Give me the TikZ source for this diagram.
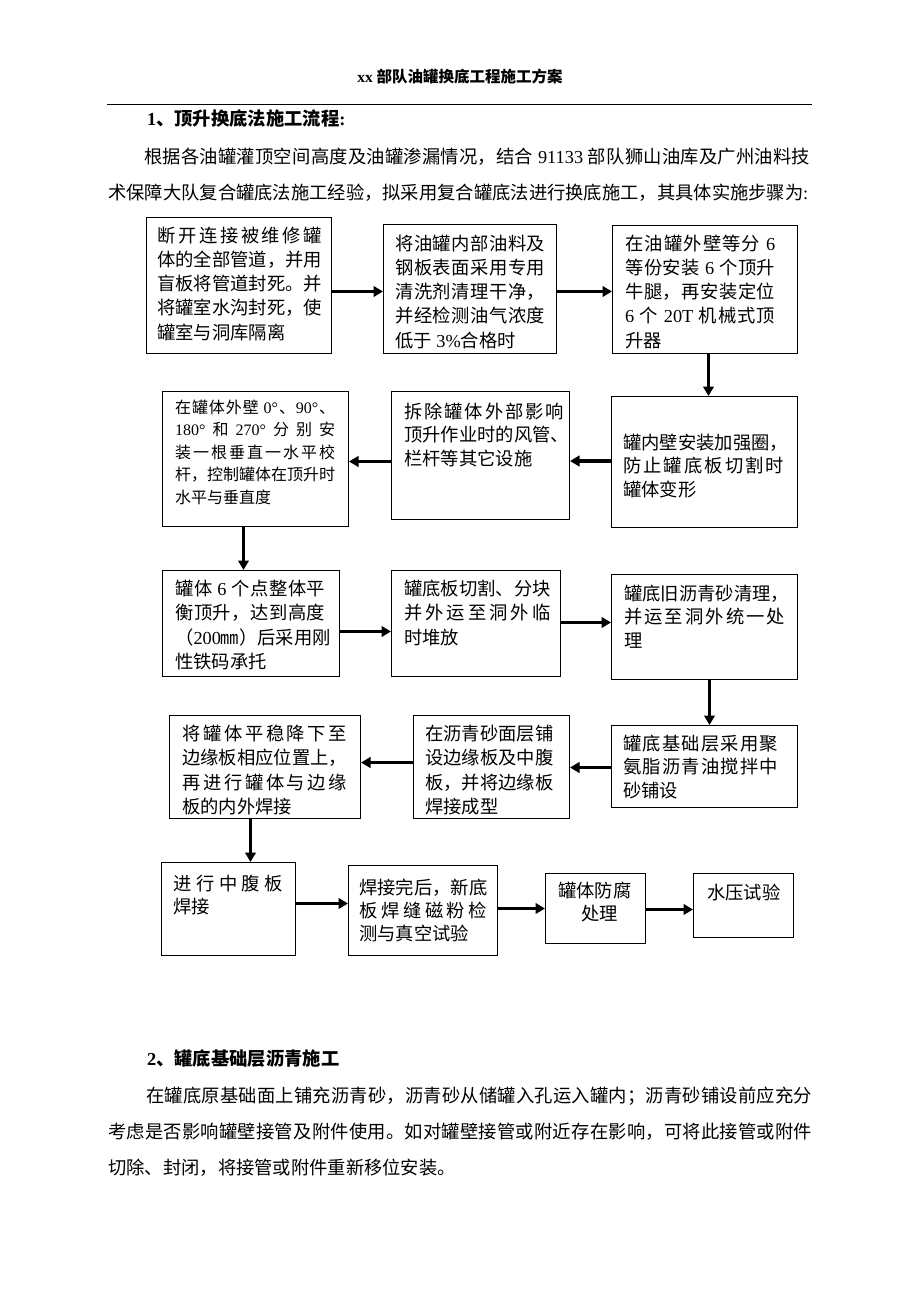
\documentclass[tikz,border=0pt]{standalone}
\usepackage{fontspec}
\setmainfont{Liberation Serif}
\newfontfamily\cjk{Noto Sans CJK SC}
\usetikzlibrary{arrows.meta}
\makeatletter
\newcommand\spr[2]{\hbox to #1pt{\spr@a#2\relax}}
\def\spr@a#1{{#1}\spr@b}
\def\spr@b#1{\ifx\relax#1\else\hfil{#1}\expandafter\spr@b\fi}
\makeatother
\newcommand\tn{\rmfamily}
\newcommand\bsk[1]{\baselineskip=#1pt\lineskip=0pt\lineskiplimit=-100pt\relax}
\tikzset{
  box/.style={draw, line width=1pt, inner sep=0pt, anchor=north west},
  txt/.style={inner sep=0pt, anchor=base west, font=\cjk\fontsize{18.3}{24}\selectfont},
  small/.style={font=\cjk\fontsize{16}{22}\selectfont},
  arr/.style={line width=3.5pt, -{Triangle[length=9.5pt,width=10.5pt]}},
}
\begin{document}
\begin{tikzpicture}[x=1pt,y=-1pt]
\fill[white] (0,0) rectangle (920,1302);
\useasboundingbox (0,0) rectangle (920,1302);
% header
\node[inner sep=0pt, font=\cjk\bfseries\fontsize{15.5}{18}\selectfont] (hdr) at (460,77) {{\tn xx} 部队油罐换底工程施工方案};
\draw[line width=1pt] (107,104) -- (812,104);
\node[txt, font=\cjk\bfseries\fontsize{18.3}{24}\selectfont] (h1) at (147,125) {{\tn 1}、顶升换底法施工流程{\tn :}};
\node[txt] (p1) at (108,163) {\vtop{\bsk{36}%
 \hbox{\hskip36pt\spr{666}{根据各油罐灌顶空间高度及油罐渗漏情况，结合{\tn\ 91133\ }部队狮山油库及广州油料技}}%
 \hbox{\spr{695}{术保障大队复合罐底法施工经验，拟采用复合罐底法进行换底施工，其具体实施步骤为}{\tn :}}}};
% boxes
\node[box, minimum width=185pt, minimum height=136pt] (b1) at (146,217) {};
\node[box, minimum width=173pt, minimum height=129pt] (b2) at (383,224) {};
\node[box, minimum width=185pt, minimum height=128pt] (b3) at (612,225) {};
\node[box, minimum width=186pt, minimum height=131pt] (b4) at (611,396) {};
\node[box, minimum width=178pt, minimum height=128pt] (b5) at (391,391) {};
\node[box, minimum width=186pt, minimum height=135pt] (b6) at (162,391) {};
\node[box, minimum width=177pt, minimum height=106pt] (b7) at (162,570) {};
\node[box, minimum width=169pt, minimum height=106pt] (b8) at (391,570) {};
\node[box, minimum width=186pt, minimum height=105pt] (b9) at (611,574) {};
\node[box, minimum width=186pt, minimum height=82pt] (b10) at (611,725) {};
\node[box, minimum width=156pt, minimum height=103pt] (b11) at (413,715) {};
\node[box, minimum width=191pt, minimum height=103pt] (b12) at (169,715) {};
\node[box, minimum width=134pt, minimum height=93pt] (b13) at (161,862) {};
\node[box, minimum width=149pt, minimum height=90pt] (b14) at (348,865) {};
\node[box, minimum width=100pt, minimum height=70pt] (b15) at (545,873) {};
\node[box, minimum width=100pt, minimum height=64pt] (b16) at (693,873) {};
% texts
\node[txt] (t1) at (157,242) {\vtop{\bsk{24.3}%
 \spr{165}{断开连接被维修罐}\spr{165}{体的全部管道，并用}\spr{165}{盲板将管道封死。并}\spr{165}{将罐室水沟封死，使}\hbox{罐室与洞库隔离}}};
\node[txt] (t2) at (395,250) {\vtop{\bsk{24.3}%
 \spr{150}{将油罐内部油料及}\spr{150}{钢板表面采用专用}\spr{150}{清洗剂清理干净，}\spr{150}{并经检测油气浓度}\hbox{低于{\tn\ 3\%}合格时}}};
\node[txt] (t3) at (625,250) {\vtop{\bsk{24.3}%
 \spr{150}{在油罐外壁等分{\tn\ 6}}\spr{150}{等份安装{\tn\ 6\ }个顶升}\spr{150}{牛腿，再安装定位}\spr{150}{{\tn 6\ }个{\tn\ 20T\ }机械式顶}\hbox{升器}}};
\node[txt] (t4) at (623,449) {\vtop{\bsk{23.5}%
 \hbox{罐内壁安装加强圈，}\spr{161}{防止罐底板切割时}\hbox{罐体变形}}};
\node[txt] (t5) at (404,418) {\vtop{\bsk{23.5}%
 \spr{160}{拆除罐体外部影响}\hbox{顶升作业时的风管、}\hbox{栏杆等其它设施}}};
\node[txt, small] (t6) at (175,413) {\vtop{\bsk{22.5}%
 \spr{160}{在罐体外壁{\tn\ 0°}、{\tn 90°}、}\spr{160}{{\tn 180°}和{\tn 270°}分别安}\spr{160}{装一根垂直一水平校}\hbox{杆，控制罐体在顶升时}\hbox{水平与垂直度}}};
\node[txt] (t7) at (175,595) {\vtop{\bsk{24.5}%
 \spr{150}{罐体{\tn\ 6\ }个点整体平}\spr{150}{衡顶升，达到高度}\hbox{（{\tn 200}㎜）后采用刚}\hbox{性铁码承托}}};
\node[txt] (t8) at (404,595) {\vtop{\bsk{24.5}%
 \spr{146.4}{罐底板切割、分块}\spr{146.4}{并外运至洞外临}\hbox{时堆放}}};
\node[txt] (t9) at (624,600) {\vtop{\bsk{23.5}%
 \hbox{罐底旧沥青砂清理，}\spr{161}{并运至洞外统一处}\hbox{理}}};
\node[txt] (t10) at (623,750) {\vtop{\bsk{23.5}%
 \spr{155}{罐底基础层采用聚}\spr{155}{氨脂沥青油搅拌中}\hbox{砂铺设}}};
\node[txt] (t11) at (425,740) {\vtop{\bsk{24.5}%
 \hbox{在沥青砂面层铺}\hbox{设边缘板及中腹}\hbox{板，并将边缘板}\hbox{焊接成型}}};
\node[txt] (t12) at (182,740) {\vtop{\bsk{24.5}%
 \spr{165}{将罐体平稳降下至}\hbox{边缘板相应位置上，}\spr{165}{再进行罐体与边缘}\hbox{板的内外焊接}}};
\node[txt] (t13) at (173,890) {\vtop{\bsk{23}%
 \spr{110}{进行中腹板}\hbox{焊接}}};
\node[txt] (t14) at (359,894) {\vtop{\bsk{23}%
 \hbox{焊接完后，新底}\spr{128}{板焊缝磁粉检}\hbox{测与真空试验}}};
\node[txt] (t15) at (558,897) {\vtop{\bsk{23}%
 \hbox{罐体防腐}\hbox{\hskip23pt 处理}}};
\node[txt] (t16) at (707,899) {水压试验};
% connectors
\coordinate (c1) at ([yshift=-6pt]b1.east);
\coordinate (c2) at ([yshift=-2.5pt]b2.east);
\coordinate (d1) at ([xshift=3.5pt]b3.south);
\coordinate (c3) at ([yshift=1pt]b4.west);
\coordinate (c4) at ([yshift=-6pt]b5.west);
\coordinate (d2) at ([xshift=-12pt]b6.south);
\coordinate (c5) at ([yshift=-8pt]b7.east);
\coordinate (c6) at ([yshift=1pt]b8.east);
\coordinate (d3) at ([xshift=5pt]b9.south);
\coordinate (c7) at ([yshift=-1pt]b10.west);
\coordinate (c8) at ([yshift=4.5pt]b11.west);
\coordinate (d4) at ([xshift=-14.5pt]b12.south);
\coordinate (c9) at ([yshift=5.5pt]b13.east);
\coordinate (c10) at ([yshift=2pt]b14.east);
\coordinate (c11) at ([yshift=-1pt]b15.east);
\draw[arr] (c1) -- (c1 -| b2.west);
\draw[arr] (c2) -- (c2 -| b3.west);
\draw[arr] (d1) -- (d1 |- b4.north);
\draw[arr] (c3) -- (c3 -| b5.east);
\draw[arr] (c4) -- (c4 -| b6.east);
\draw[arr] (d2) -- (d2 |- b7.north);
\draw[arr] (c5) -- (c5 -| b8.west);
\draw[arr] (c6) -- (c6 -| b9.west);
\draw[arr] (d3) -- (d3 |- b10.north);
\draw[arr] (c7) -- (c7 -| b11.east);
\draw[arr] (c8) -- (c8 -| b12.east);
\draw[arr] (d4) -- (d4 |- b13.north);
\draw[arr] (c9) -- (c9 -| b14.west);
\draw[arr] (c10) -- (c10 -| b15.west);
\draw[arr] (c11) -- (c11 -| b16.west);
% section 2
\node[txt, font=\cjk\bfseries\fontsize{18.3}{24}\selectfont] (h2) at (147,1065) {{\tn 2}、罐底基础层沥青施工};
\node[txt] (p2) at (108,1102) {\vtop{\bsk{36}%
 \hbox{\hskip38pt\spr{666}{在罐底原基础面上铺充沥青砂，沥青砂从储罐入孔运入罐内；沥青砂铺设前应充分}}%
 \spr{704}{考虑是否影响罐壁接管及附件使用。如对罐壁接管或附近存在影响，可将此接管或附件}%
 \hbox{切除、封闭，将接管或附件重新移位安装。}}};
\end{tikzpicture}
\end{document}
